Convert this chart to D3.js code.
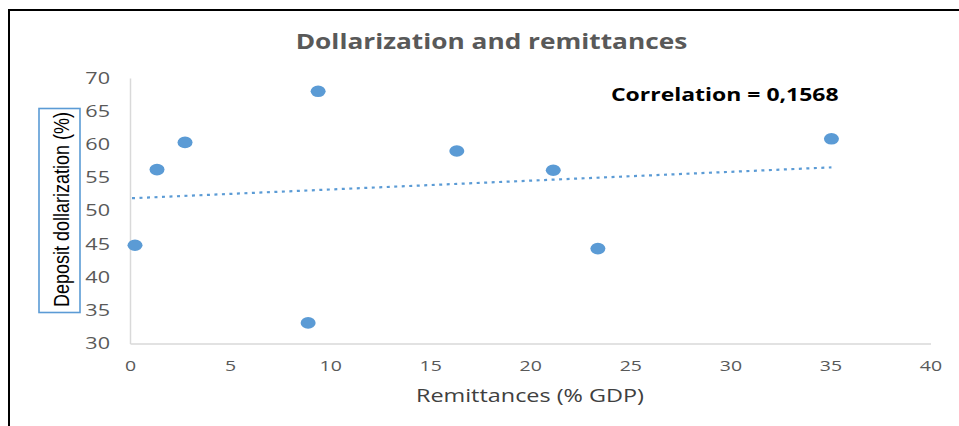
<!DOCTYPE html>
<html><head><meta charset="utf-8">
<script src="https://cdn.jsdelivr.net/npm/d3@7"></script>
<style>body{margin:0;background:#fff}svg{display:block}</style>
</head><body>
<script>
const remittances = [0.25, 1.35, 2.75, 8.9, 9.4, 16.33, 21.15, 23.38, 35.05];
const dollarization = [44.8, 56.2, 60.3, 33.1, 68.0, 59.0, 56.1, 44.3, 60.84];
const xTicks = [0, 5, 10, 15, 20, 25, 30, 35, 40];
const yTicks = [30, 35, 40, 45, 50, 55, 60, 65, 70];
const titleText = "Dollarization and remittances";
const xLabel = "Remittances (% GDP)";
const yLabel = "Deposit dollarization (%)";
const corrText = "Correlation = 0,1568";

const W = 959, H = 426;
const svg = d3.select("body").append("svg").attr("width", W).attr("height", H);

// horizontal stretch of text (the reference image is stretched sideways)
function stretch(sel, k) {
  sel.each(function() {
    const w = this.getComputedTextLength();
    d3.select(this).attr("textLength", w * k).attr("lengthAdjust", "spacingAndGlyphs");
  });
}

// outer frame (top & left)
svg.append("line").attr("x1", 8.5).attr("x2", W).attr("y1", 10).attr("y2", 10).attr("stroke", "#000").attr("stroke-width", 2);
svg.append("line").attr("x1", 9).attr("x2", 9).attr("y1", 9).attr("y2", H).attr("stroke", "#000").attr("stroke-width", 2);

const x = d3.scaleLinear().domain([0, 40]).range([130, 930.5]);
const y = d3.scaleLinear().domain([30, 70]).range([343.5, 78]);

const gray = "#595959";
const font = "'Open Sans', sans-serif";

// axes
const xa = svg.append("g").attr("transform", `translate(0,${y(30)})`)
  .call(d3.axisBottom(x).tickValues(xTicks).tickSize(0).tickPadding(17));
xa.select(".domain").attr("stroke", "#d9d9d9").attr("stroke-width", 1.5);
xa.selectAll("text").attr("font-family", font).attr("font-size", 15).attr("fill", gray).call(stretch, 1.3);

const ya = svg.append("g").attr("transform", `translate(${x(0)},0)`)
  .call(d3.axisLeft(y).tickValues(yTicks).tickSize(0).tickPadding(20));
ya.select(".domain").attr("stroke", "#d9d9d9").attr("stroke-width", 1.5);
ya.selectAll("text").attr("font-family", font).attr("font-size", 16).attr("fill", gray).call(stretch, 1.35);

// trendline (least squares)
const n = remittances.length;
const mx = d3.mean(remittances), my = d3.mean(dollarization);
let sxy = 0, sxx = 0;
for (let i = 0; i < n; i++) { sxy += (remittances[i]-mx)*(dollarization[i]-my); sxx += (remittances[i]-mx)**2; }
const b = sxy / sxx, a = my - b * mx;
const x0 = d3.min(remittances) - 0.15, x1 = d3.max(remittances);
svg.append("line")
  .attr("x1", x(x0)).attr("y1", y(a + b*x0)).attr("x2", x(x1)).attr("y2", y(a + b*x1))
  .attr("stroke", "#5b9bd5").attr("stroke-width", 2.2).attr("stroke-dasharray", "3,4.5");

// points
svg.append("g").selectAll("ellipse").data(remittances.map((v,i)=>[v, dollarization[i]]))
  .join("ellipse").attr("cx", d => x(d[0])).attr("cy", d => y(d[1]))
  .attr("rx", 7.5).attr("ry", 5.8).attr("fill", "#5b9bd5");

// title
svg.append("text").attr("x", 491.5).attr("y", 49).attr("text-anchor", "middle")
  .attr("font-family", font).attr("font-weight", "bold").attr("font-size", 21).attr("fill", gray).text(titleText)
  .call(stretch, 1.25);

// correlation
svg.append("text").attr("x", 611).attr("y", 101)
  .attr("font-family", font).attr("font-weight", "bold").attr("font-size", 17).attr("fill", "#000").text(corrText)
  .call(stretch, 1.35);

// x label
svg.append("text").attr("x", 530).attr("y", 402).attr("text-anchor", "middle")
  .attr("font-family", font).attr("font-size", 18).attr("fill", "#404040").text(xLabel)
  .call(stretch, 1.3);

// y label in box
svg.append("rect").attr("x", 39).attr("y", 108.5).attr("width", 41).attr("height", 204)
  .attr("fill", "#fff").attr("stroke", "#5b9bd5").attr("stroke-width", 1.6);
svg.append("text").attr("transform", "translate(68.5,209.5) rotate(-90)").attr("text-anchor", "middle")
  .attr("font-family", "'Liberation Sans', sans-serif").attr("font-size", 22).attr("fill", "#000").text(yLabel)
  .attr("textLength", 195).attr("lengthAdjust", "spacingAndGlyphs");
</script>
</body></html>
